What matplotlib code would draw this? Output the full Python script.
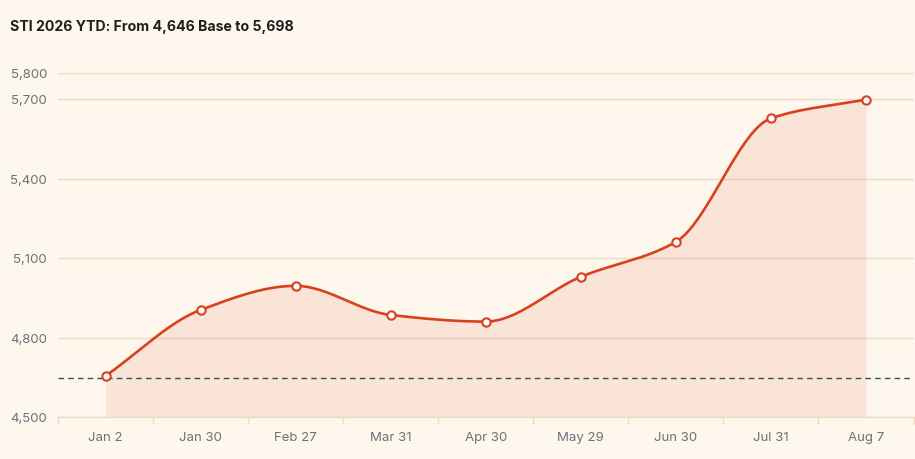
import numpy as np
import matplotlib
matplotlib.use("Agg")
import matplotlib.pyplot as plt
from matplotlib.ticker import FuncFormatter

## data
dates = ["Jan 2", "Jan 30", "Feb 27", "Mar 31", "Apr 30", "May 29", "Jun 30", "Jul 31", "Aug 7"]
sti_close = [4655, 4904, 4995, 4885, 4860, 5029, 5161, 5627, 5698]
base_level = 4646
y_ticks = [4500, 4800, 5100, 5400, 5700, 5800]
title = "STI 2026 YTD: From 4,646 Base to 5,698"

bg = "#fef7ee"
line_col = "#d9411e"
grid_col = "#ecdcc6"
label_col = "#6e7079"


def monotone_curve(x, y, n=40):
    # Fritsch-Carlson monotone cubic, just for drawing the smooth line
    x = np.asarray(x, float)
    y = np.asarray(y, float)
    h = np.diff(x)
    d = np.diff(y) / h
    m = np.zeros_like(y)
    m[0], m[-1] = d[0], d[-1]
    for i in range(1, len(y) - 1):
        if d[i - 1] * d[i] <= 0:
            m[i] = 0
        else:
            w1 = 2 * h[i] + h[i - 1]
            w2 = h[i] + 2 * h[i - 1]
            m[i] = (w1 + w2) / (w1 / d[i - 1] + w2 / d[i])
    xs, ys = [], []
    for i in range(len(x) - 1):
        t = np.linspace(0, 1, n, endpoint=(i == len(x) - 2))
        h00 = 2 * t**3 - 3 * t**2 + 1
        h10 = t**3 - 2 * t**2 + t
        h01 = -2 * t**3 + 3 * t**2
        h11 = t**3 - t**2
        xs.append(x[i] + t * h[i])
        ys.append(h00 * y[i] + h10 * h[i] * m[i] + h01 * y[i + 1] + h11 * h[i] * m[i + 1])
    return np.concatenate(xs), np.concatenate(ys)


plt.rcParams['font.family'] = ['Inter', 'DejaVu Sans']

fig = plt.figure(figsize=(9.15, 4.6), dpi=100, facecolor=bg)
ax = fig.add_axes([58 / 915, 42 / 460, 855.5 / 915, (418 - 73.5) / 460])
ax.set_facecolor(bg)

xpos = np.arange(len(dates))
cx, cy = monotone_curve(xpos, sti_close)

ax.fill_between(cx, cy, y_ticks[0], color=line_col, alpha=0.1, lw=0, zorder=1)
ax.axhline(base_level, color="#1f5e4a", lw=1.0, ls=(0, (4, 3)), zorder=2)
ax.plot(cx, cy, color=line_col, lw=1.9, zorder=3, solid_capstyle="round")
ax.plot(xpos, sti_close, "o", ms=6, mfc="white", mec=line_col, mew=1.5, zorder=4)

ax.set_xlim(-0.5, len(dates) - 0.5)
ax.set_ylim(y_ticks[0], y_ticks[-1])
ax.set_yticks(y_ticks)
ax.yaxis.set_major_formatter(FuncFormatter(lambda v, p: f"{v:,.0f}"))
ax.grid(axis="y", color=grid_col, lw=1.0, zorder=0)
ax.set_axisbelow(True)

ax.set_xticks(xpos)
ax.set_xticklabels(dates)
ax.set_xticks(np.arange(-0.5, len(dates), 1.0), minor=True)
ax.tick_params(axis="x", which="major", length=0, pad=10, labelsize=9.5, labelcolor=label_col)
ax.tick_params(axis="x", which="minor", length=5, color=grid_col, width=1)
ax.tick_params(axis="y", length=0, pad=8, labelsize=9.5, labelcolor=label_col)

for s in ["top", "right", "left"]:
    ax.spines[s].set_visible(False)
ax.spines["bottom"].set_color(grid_col)
ax.spines["bottom"].set_linewidth(1.0)

fig.text(10 / 915, 1 - 27 / 460, title, fontsize=10.2, fontweight="bold",
         color="#1f1f1f", va="center", ha="left")

fig.savefig("out.png", dpi=100, facecolor=bg)
